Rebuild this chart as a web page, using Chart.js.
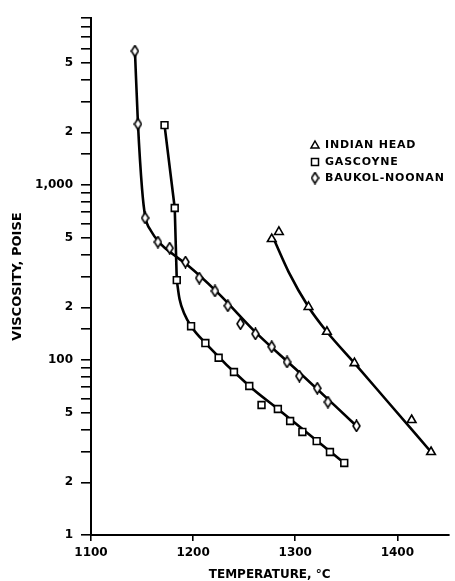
<!DOCTYPE html>
<html><head><meta charset="utf-8">
<script src="https://cdn.jsdelivr.net/npm/chart.js@4/dist/chart.umd.min.js"></script>
<style>html,body{margin:0;padding:0;background:#fff;} canvas{display:block;}</style>
</head><body>
<canvas id="c" width="455" height="581"></canvas>
<script>
// ---- data ----
const seriesNames = ['INDIAN HEAD', 'GASCOYNE', 'BAUKOL-NOONAN'];

const indianTemp = [1277, 1284, 1313, 1331, 1358, 1414, 1433];
const indianVisc = [491, 539, 201, 145, 96, 45.4, 29.8];

const gascoyneTemp = [1172, 1182, 1184, 1198, 1212, 1225, 1240, 1255, 1267, 1283, 1295, 1307, 1321, 1334, 1348];
const gascoyneVisc = [2200, 739, 286, 156, 125, 103, 85.4, 71, 55.3, 52.5, 44.8, 38.8, 34.4, 29.8, 25.8];

const baukolTemp = [1143, 1146, 1153, 1165.5, 1177, 1192.5, 1206, 1221.4, 1234, 1246.4, 1261, 1277, 1292, 1304, 1321.6, 1332, 1360];
const baukolVisc = [5830, 2230, 648, 472, 436, 363, 294, 248, 204, 161, 141, 119, 97.4, 81, 69, 57.5, 42];

// fitted curves as drawn in the reference
const indianCurveTemp = [1279, 1293.6, 1313, 1331, 1358, 1390, 1433];
const indianCurveVisc = [491, 318, 201, 145, 96, 58.3, 29.8];

const gascoyneSteepTemp = [1172, 1182, 1184];
const gascoyneSteepVisc = [2200, 739, 286];
const gascoyneCurveTemp = [1184, 1186.7, 1191.5, 1198, 1212, 1255, 1283, 1348];
const gascoyneCurveVisc = [286, 223, 183, 156, 125, 71, 52.5, 25.8];

const baukolCurveTemp = [1143, 1146, 1150, 1153, 1158.8, 1168.4, 1180, 1194.4, 1223.3, 1261.8, 1300.4, 1360];
const baukolCurveVisc = [5900, 2230, 949, 665, 546, 460, 403, 349, 245, 143, 88.8, 42];

const yTickValues = [10, 20, 50, 100, 200, 500, 1000, 2000, 5000];
const yTickText = ['1', '2', '5', '100', '2', '5', '1,000', '2', '5'];
const xTickValues = [1100, 1200, 1300, 1400];

// ---- marker images ----
function makeDiamond() {
  const c = document.createElement('canvas');
  c.width = 9; c.height = 13;
  const g = c.getContext('2d');
  g.beginPath();
  g.moveTo(4.5, 1); g.lineTo(8, 6.5); g.lineTo(4.5, 12); g.lineTo(1, 6.5); g.closePath();
  g.fillStyle = '#fff'; g.fill();
  g.lineWidth = 1.6; g.strokeStyle = '#000'; g.stroke();
  return c;
}
const diamond = makeDiamond();

function pts(xs, ys) { return xs.map((x, i) => ({x: x, y: ys[i]})); }

function curve(xs, ys, straight) {
  const d = {
    data: pts(xs, ys), showLine: true, pointRadius: 0, borderColor: '#000',
    borderWidth: 2.6, order: 2, borderCapStyle: 'round', borderJoinStyle: 'round'
  };
  if (straight) d.tension = 0; else d.cubicInterpolationMode = 'monotone';
  return d;
}
function markers(xs, ys, style, r) {
  return {
    data: pts(xs, ys), showLine: false, pointStyle: style, pointRadius: r,
    pointBackgroundColor: '#fff', pointBorderColor: '#000', pointBorderWidth: 1.6, order: 0
  };
}

const FONT = 'DejaVu Sans';

const legendPlugin = {
  id: 'fixedLegend',
  afterDraw(chart) {
    const ctx = chart.ctx;
    ctx.save();
    ctx.font = 'bold 11px "' + FONT + '"';
    try { ctx.letterSpacing = '0.8px'; } catch (e) {}
    ctx.fillStyle = '#000';
    ctx.textBaseline = 'middle';
    const rows = [145, 162, 178];
    const mx = 315, tx = 325;
    ctx.lineWidth = 1.5; ctx.strokeStyle = '#000';
    ctx.beginPath();
    ctx.moveTo(mx, rows[0] - 4); ctx.lineTo(mx + 4, rows[0] + 3); ctx.lineTo(mx - 4, rows[0] + 3); ctx.closePath();
    ctx.fillStyle = '#fff'; ctx.fill(); ctx.stroke();
    ctx.beginPath(); ctx.rect(mx - 3.5, rows[1] - 3.5, 7, 7); ctx.fill(); ctx.stroke();
    ctx.drawImage(diamond, mx - 4.5, rows[2] - 6.5);
    ctx.fillStyle = '#000';
    seriesNames.forEach((n, i) => ctx.fillText(n, tx, rows[i] + 0.5));
    ctx.restore();
  }
};

new Chart(document.getElementById('c'), {
  type: 'scatter',
  data: {
    datasets: [
      curve(indianCurveTemp, indianCurveVisc),
      curve(gascoyneSteepTemp, gascoyneSteepVisc, true),
      curve(gascoyneCurveTemp, gascoyneCurveVisc),
      curve(baukolCurveTemp, baukolCurveVisc),
      markers(indianTemp, indianVisc, 'triangle', 5),
      markers(gascoyneTemp, gascoyneVisc, 'rect', 4.8),
      markers(baukolTemp, baukolVisc, diamond, 5)
    ]
  },
  options: {
    responsive: false,
    devicePixelRatio: 1,
    animation: false,
    layout: {padding: {top: 18, right: 0, left: 0, bottom: 0}},
    plugins: {legend: {display: false}, tooltip: {enabled: false}},
    scales: {
      x: {
        type: 'linear', min: 1100, max: 1450,
        afterBuildTicks(s) { s.ticks = xTickValues.map(v => ({value: v})); },
        afterFit(s) { s.height = 46; },
        border: {display: true, color: '#000', width: 2},
        grid: {drawOnChartArea: false, drawTicks: true, tickLength: 6, color: '#000', lineWidth: 1.6},
        ticks: {color: '#000', padding: 5, font: {family: FONT, size: 12, weight: 'bold'}, maxRotation: 0, autoSkip: false,
                callback(v) { return String(v); }},
        title: {display: true, text: 'TEMPERATURE, °C', color: '#000', padding: {top: 0, bottom: 0},
                font: {family: FONT, size: 12, weight: 'bold', lineHeight: 1}}
      },
      y: {
        type: 'logarithmic', min: 10, max: 9000,
        afterFit(s) { s.width = 91; },
        border: {display: true, color: '#000', width: 2},
        grid: {drawOnChartArea: false, drawTicks: true, tickLength: 10, color: '#000', lineWidth: 1.6},
        ticks: {
          color: '#000', padding: 8, autoSkip: false,
          font: {family: FONT, size: 12, weight: 'bold'},
          callback(v) { const i = yTickValues.indexOf(Math.round(v)); return i >= 0 ? yTickText[i] : ''; }
        },
        title: {display: true, text: 'VISCOSITY, POISE', color: '#000', padding: {top: 10, bottom: 0},
                font: {family: FONT, size: 13, weight: 'bold'}}
      }
    }
  },
  plugins: [legendPlugin]
});
</script></body></html>
